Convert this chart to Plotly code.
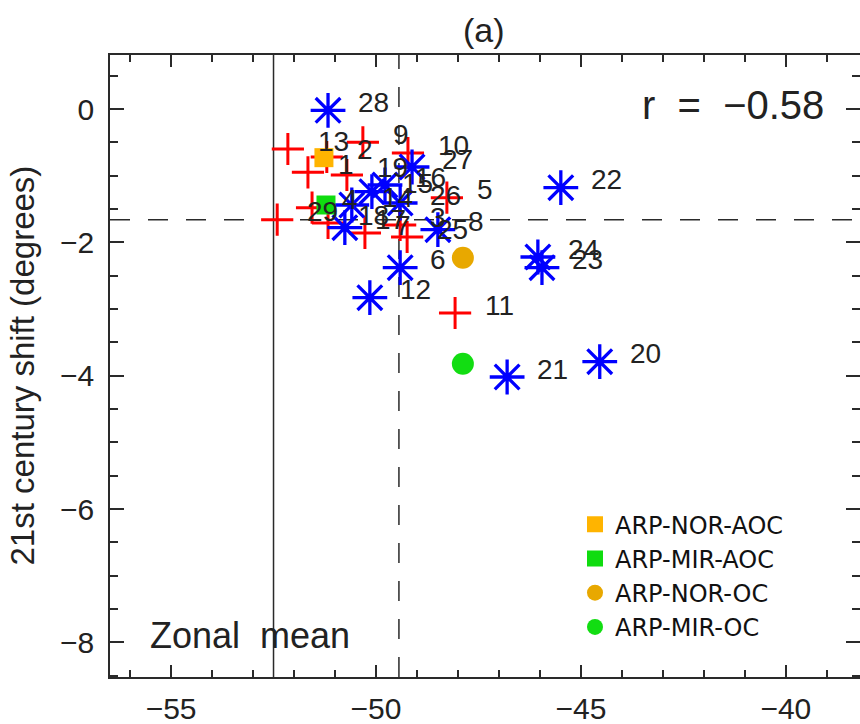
import plotly.graph_objects as go

# ---- data ----
red_labels = ['13', '9', '1', '19', '2', '10', '5', '25', '7', '18', '4', '29', '11', '3']
red_x = [-52.15, -50.32, -51.66, -50.71, -51.20, -49.22, -48.27, -49.24, -50.27, -51.17, -51.56, -52.41, -48.07, -49.41]
red_y = [-0.60, -0.50, -0.95, -0.99, -0.72, -0.66, -1.33, -1.92, -1.86, -1.71, -1.48, -1.66, -3.06, -1.74]

blue_labels = ['28', '22', '24', '23', '20', '21', '12', '6', '27', '15', '26', '8', '14', '16', '17']
blue_x = [-51.17, -45.49, -46.05, -45.95, -44.54, -46.80, -50.15, -49.41, -49.12, -50.10, -49.41, -48.49, -50.59, -49.78, -50.76]
blue_y = [-0.02, -1.18, -2.22, -2.38, -3.79, -4.02, -2.83, -2.38, -0.87, -1.24, -1.41, -1.81, -1.44, -1.14, -1.78]

arp_names = ['ARP-NOR-AOC', 'ARP-MIR-AOC', 'ARP-NOR-OC', 'ARP-MIR-OC']
arp_x = [-51.27, -51.22, -47.88, -47.88]
arp_y = [-0.73, -1.44, -2.23, -3.82]
arp_symbols = ['square', 'square', 'circle', 'circle']
arp_colors = ['#FFB400', '#0FDC0F', '#E8A800', '#12DD12']

obs_lat = -52.5        # solid vertical line
mean_lat = -49.44      # dashed vertical line
mean_shift = -1.66     # dashed horizontal line
r_text = 'r  =  \u22120.58'

x_range = [-56.49, -38.19]
y_range = [-8.52, 0.81]

FONT = 'Liberation Sans'
LINE = '#2a2a2a'

fig = go.Figure()

fig.add_trace(go.Scatter(
    x=red_x, y=red_y, mode='markers', showlegend=False,
    marker=dict(symbol='cross-thin-open', size=23, color='#FF0000',
                line=dict(color='#FF0000', width=3)),
))
fig.add_trace(go.Scatter(
    x=blue_x, y=blue_y, mode='markers', showlegend=False,
    marker=dict(symbol='asterisk-open', size=29, color='#0000FF',
                line=dict(color='#0000FF', width=3.3)),
))
for name, x, y, s, c in zip(arp_names, arp_x, arp_y, arp_symbols, arp_colors):
    fig.add_trace(go.Scatter(
        x=[x], y=[y], mode='markers', name=name,
        marker=dict(symbol=s, size=19 if s == 'square' else 22, color=c,
                    line=dict(width=0)),
    ))

annotations = []
for lab, x, y in list(zip(red_labels, red_x, red_y)) + list(zip(blue_labels, blue_x, blue_y)):
    annotations.append(dict(x=x, y=y, xref='x', yref='y', text=lab, showarrow=False,
                            xanchor='left', yanchor='middle', xshift=28, yshift=8,
                            font=dict(family=FONT, size=28, color='#222222')))

annotations += [
    dict(x=0.4987, y=1.04, xref='paper', yref='paper', text='(a)', showarrow=False,
         xanchor='center', yanchor='middle', font=dict(family=FONT, size=34, color='#222222')),
    dict(x=0.7067, y=0.9196, xref='paper', yref='paper', text=r_text, showarrow=False,
         xanchor='left', yanchor='middle', font=dict(family=FONT, size=40, color='#222222')),
    dict(x=0.05, y=0.0675, xref='paper', yref='paper', text='Zonal  mean', showarrow=False,
         xanchor='left', yanchor='middle', font=dict(family=FONT, size=36, color='#222222')),
    dict(x=-0.118, y=0.5, xref='paper', yref='paper', text='21st century shift (degrees)',
         showarrow=False, textangle=-90, xanchor='center', yanchor='middle',
         font=dict(family=FONT, size=33, color='#222222')),
]

shapes = [
    dict(type='line', xref='x', yref='paper', x0=obs_lat, x1=obs_lat, y0=0, y1=1,
         line=dict(color=LINE, width=1.5), layer='below'),
    dict(type='line', xref='x', yref='paper', x0=mean_lat, x1=mean_lat, y0=0, y1=1,
         line=dict(color=LINE, width=1.5, dash='20px,18px'), layer='below'),
    dict(type='line', xref='paper', yref='y', x0=0, x1=1, y0=mean_shift, y1=mean_shift,
         line=dict(color=LINE, width=1.5, dash='20px,18px'), layer='below'),
]

axis_common = dict(showgrid=False, zeroline=False, showline=True, linecolor=LINE, linewidth=1.5,
                   mirror='allticks', ticks='inside', tickcolor=LINE, tickwidth=1.5,
                   automargin=False,
                   tickfont=dict(family=FONT, size=30, color='#222222'))

fig.update_layout(
    width=860, height=724,
    margin=dict(l=110, r=0, t=55, b=47, autoexpand=False),
    paper_bgcolor='white', plot_bgcolor='white',
    font=dict(family=FONT),
    xaxis=dict(range=x_range, tickvals=[-55, -50, -45, -40], ticklen=12,
               ticklabelstandoff=4,
               minor=dict(dtick=1, tick0=-55, ticks='inside', ticklen=7, tickcolor=LINE, tickwidth=1.5),
               **axis_common),
    yaxis=dict(range=y_range, tickvals=[0, -2, -4, -6, -8], ticklen=14,
               ticklabelstandoff=8,
               minor=dict(dtick=0.5, tick0=0, ticks='inside', ticklen=8, tickcolor=LINE, tickwidth=1.5),
               **axis_common),
    showlegend=True,
    legend=dict(x=0.62, y=0.281, xanchor='left', yanchor='top', bgcolor='rgba(0,0,0,0)',
                font=dict(family='DejaVu Sans', size=24, color='#111111'),
                itemsizing='trace', tracegroupgap=0),
    annotations=annotations,
    shapes=shapes,
)

fig.write_html('out.html', config={'displayModeBar': False},
               post_script="document.body.style.margin='0px';document.body.style.overflow='hidden';")
